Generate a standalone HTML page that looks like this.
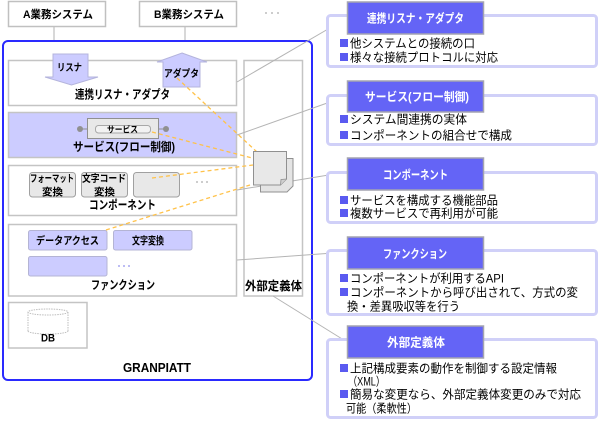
<!DOCTYPE html>
<html><head><meta charset="utf-8"><style>
html,body{margin:0;padding:0;background:#fff;}
svg{display:block;}
text{font-family:"Liberation Sans","Noto Sans CJK JP",sans-serif;}
.b{font-weight:bold;}
</style></head><body>
<svg width="600" height="422" viewBox="0 0 600 422" xmlns="http://www.w3.org/2000/svg">
<rect width="600" height="422" fill="#fff"/>
<!-- top systems -->
<line x1="54" y1="27" x2="54" y2="40" stroke="#b0b0b0" stroke-width="1"/>
<line x1="185" y1="27" x2="185" y2="40" stroke="#b0b0b0" stroke-width="1"/>
<rect x="8.5" y="1.5" width="97" height="25" fill="#fff" stroke="#c0c0c0" stroke-width="1.5"/>
<rect x="139.5" y="1.5" width="97" height="25" fill="#fff" stroke="#c0c0c0" stroke-width="1.5"/>
<text class="b" x="23" y="18" font-size="11" textLength="70" lengthAdjust="spacingAndGlyphs">A業務システム</text>
<text class="b" x="154" y="18" font-size="11" textLength="70" lengthAdjust="spacingAndGlyphs">B業務システム</text>
<circle cx="266" cy="13" r="0.9" fill="#aaa"/><circle cx="272" cy="13" r="0.9" fill="#aaa"/><circle cx="278" cy="13" r="0.9" fill="#aaa"/>

<!-- main box -->
<rect x="3" y="41" width="309" height="339" rx="5" fill="#fff" stroke="#2a2aff" stroke-width="2"/>

<!-- listener/adapter box -->
<rect x="8.5" y="60.5" width="228" height="45" fill="#fff" stroke="#c4c4c4" stroke-width="1.5"/>
<polygon points="53,54 88,54 88,77 98,77 71.5,85 45,77 53,77" fill="#ccccff" stroke="#b4b4dc" stroke-width="1"/>
<polygon points="182,53 207,62 200,62 200,87 163,87 163,62 157,62" fill="#ccccff" stroke="#b4b4dc" stroke-width="1"/>
<text class="b" x="57" y="71" font-size="10" textLength="25" lengthAdjust="spacingAndGlyphs">リスナ</text>
<text class="b" x="164" y="77" font-size="10" textLength="35" lengthAdjust="spacingAndGlyphs">アダプタ</text>
<text class="b" x="75" y="98.5" font-size="12" textLength="95" lengthAdjust="spacingAndGlyphs">連携リスナ・アダプタ</text>

<!-- service box -->
<rect x="8.5" y="112.5" width="228" height="45" fill="#ccccff" stroke="#c4c4c4" stroke-width="1.5"/>
<line x1="80" y1="129" x2="87" y2="129" stroke="#909090"/>
<line x1="159" y1="129" x2="166" y2="129" stroke="#909090"/>
<circle cx="80" cy="129" r="3" fill="#909090"/>
<circle cx="166" cy="129" r="3" fill="#909090"/>
<rect x="87.5" y="118.5" width="71" height="20" fill="#e8e8e8" stroke="#909090" stroke-width="1"/>
<rect x="95.5" y="125.5" width="55" height="7.5" rx="3" fill="#f2f2f2" stroke="#a8a8a8" stroke-width="1"/>
<text class="b" x="107" y="132.5" font-size="8.5" textLength="31" lengthAdjust="spacingAndGlyphs">サービス</text>
<text class="b" x="73" y="151" font-size="12" textLength="102" lengthAdjust="spacingAndGlyphs">サービス(フロー制御)</text>

<!-- component box -->
<rect x="8.5" y="165.5" width="228" height="50" fill="#fff" stroke="#c4c4c4" stroke-width="1.5"/>
<rect x="29.5" y="172.5" width="46" height="24.5" rx="3" fill="#e8e8e8" stroke="#a0a0a0" stroke-width="1"/>
<rect x="81.5" y="172.5" width="46" height="24.5" rx="3" fill="#e8e8e8" stroke="#a0a0a0" stroke-width="1"/>
<rect x="133.5" y="172.5" width="46" height="24.5" rx="3" fill="#e8e8e8" stroke="#a0a0a0" stroke-width="1"/>
<text class="b" x="30" y="182" font-size="10" textLength="44" lengthAdjust="spacingAndGlyphs">フォーマット</text>
<text class="b" x="42" y="195.5" font-size="10" textLength="21" lengthAdjust="spacingAndGlyphs">変換</text>
<text class="b" x="82" y="182" font-size="10" textLength="44" lengthAdjust="spacingAndGlyphs">文字コード</text>
<text class="b" x="94" y="195.5" font-size="10" textLength="21" lengthAdjust="spacingAndGlyphs">変換</text>
<circle cx="197" cy="182" r="0.9" fill="#aaa"/><circle cx="202" cy="182" r="0.9" fill="#aaa"/><circle cx="207" cy="182" r="0.9" fill="#aaa"/>
<text class="b" x="89" y="209" font-size="12" textLength="67" lengthAdjust="spacingAndGlyphs">コンポーネント</text>

<!-- function box -->
<rect x="8.5" y="224.5" width="228" height="71.5" fill="#fff" stroke="#c4c4c4" stroke-width="1.5"/>
<rect x="28.5" y="230.5" width="78.5" height="19.5" rx="2" fill="#ccccff" stroke="#b4b4d4" stroke-width="1"/>
<rect x="113.5" y="230.5" width="78.5" height="19.5" rx="2" fill="#ccccff" stroke="#b4b4d4" stroke-width="1"/>
<rect x="28.5" y="256.5" width="78.5" height="19.5" rx="2" fill="#ccccff" stroke="#b4b4d4" stroke-width="1"/>
<text class="b" x="36" y="244" font-size="10.5" textLength="63" lengthAdjust="spacingAndGlyphs">データアクセス</text>
<text class="b" x="132" y="244" font-size="10.5" textLength="32" lengthAdjust="spacingAndGlyphs">文字変換</text>
<circle cx="119" cy="266" r="1" fill="#a8a8f0"/><circle cx="124" cy="266" r="1" fill="#a8a8f0"/><circle cx="129" cy="266" r="1" fill="#a8a8f0"/>
<text class="b" x="91" y="289" font-size="12" textLength="64" lengthAdjust="spacingAndGlyphs">ファンクション</text>

<!-- external column -->
<rect x="244" y="60.5" width="58.5" height="235.5" fill="#fff" stroke="#c4c4c4" stroke-width="1.5"/>
<text class="b" x="245" y="290" font-size="12" textLength="57" lengthAdjust="spacingAndGlyphs">外部定義体</text>

<!-- DB -->
<rect x="8.5" y="302.5" width="78.5" height="45.5" fill="#fff" stroke="#c4c4c4" stroke-width="1.5"/>
<g fill="none" stroke="#bdbdbd" stroke-width="1" stroke-dasharray="1.5,1">
<ellipse cx="48" cy="312" rx="20" ry="3"/>
<line x1="28" y1="312" x2="28" y2="331"/>
<line x1="68" y1="312" x2="68" y2="331"/>
<path d="M28,331 A20,3 0 0 0 68,331"/>
</g>
<text class="b" x="41" y="341.5" font-size="11" textLength="14" lengthAdjust="spacingAndGlyphs">DB</text>
<text class="b" x="123" y="372" font-size="13" textLength="68" lengthAdjust="spacingAndGlyphs">GRANPIATT</text>

<!-- gray connectors -->
<g stroke="#b4b4b4" stroke-width="1">
<line x1="237" y1="82" x2="347" y2="18"/>
<line x1="237" y1="135" x2="347" y2="96"/>
<line x1="237" y1="190" x2="347" y2="172"/>
<line x1="237" y1="260" x2="347" y2="252"/>
<line x1="273" y1="296" x2="347" y2="342"/>
</g>

<!-- orange dashed -->
<g stroke="#ffc24a" stroke-width="1.3" stroke-dasharray="4,3" fill="none">
<line x1="177" y1="78" x2="257" y2="152"/>
<line x1="152" y1="132" x2="252" y2="158"/>
<line x1="152" y1="178" x2="253" y2="165"/>
<line x1="106" y1="230" x2="250" y2="185"/>
</g>

<!-- doc icon -->
<path d="M260.5,158.5 H293 V186 L287,192 H260.5 Z" fill="#e4e4e4" stroke="#909090" stroke-width="1"/>
<path d="M253.5,151.5 H286.5 V179 L280.5,185 H253.5 Z" fill="#e8e8e8" stroke="#909090" stroke-width="1"/>
<path d="M280.5,185 L281,179.5 L286.5,179" fill="#d0d0d0" stroke="#909090" stroke-width="0.8"/>

<!-- callouts -->
<g fill="#fff" stroke="#d0d0f8" stroke-width="3">
<rect x="327.5" y="15.5" width="269" height="51" rx="3"/>
<rect x="327.5" y="95.5" width="269" height="49" rx="3"/>
<rect x="327.5" y="172.5" width="269" height="50" rx="3"/>
<rect x="327.5" y="250.5" width="269" height="64" rx="3"/>
<rect x="327.5" y="339.5" width="269" height="78" rx="3"/>
</g>
<g fill="#6464f6" stroke="#a4a4b0" stroke-width="1.5">
<rect x="347.5" y="2" width="136" height="32"/>
<rect x="347.5" y="81" width="136" height="31"/>
<rect x="347.5" y="158" width="136" height="32"/>
<rect x="347.5" y="237" width="136" height="32"/>
<rect x="347.5" y="326" width="136" height="32"/>
</g>
<g fill="#fff" class="b" font-weight="bold" font-size="12">
<text x="367" y="22.5" textLength="97" lengthAdjust="spacingAndGlyphs">連携リスナ・アダプタ</text>
<text x="365" y="101" textLength="104" lengthAdjust="spacingAndGlyphs">サービス(フロー制御)</text>
<text x="383" y="179" textLength="65" lengthAdjust="spacingAndGlyphs">コンポーネント</text>
<text x="383" y="258" textLength="64" lengthAdjust="spacingAndGlyphs">ファンクション</text>
<text x="387" y="346.5" textLength="58" lengthAdjust="spacingAndGlyphs">外部定義体</text>
</g>
<g fill="#5a5af0">
<rect x="340" y="39" width="8" height="8"/>
<rect x="340" y="53" width="8" height="8"/>
<rect x="340" y="115" width="8" height="8"/>
<rect x="340" y="131" width="8" height="8"/>
<rect x="340" y="196" width="8" height="8"/>
<rect x="340" y="209" width="8" height="8"/>
<rect x="340" y="274" width="8" height="8"/>
<rect x="340" y="288" width="8" height="8"/>
<rect x="340" y="364" width="8" height="8"/>
<rect x="340" y="390" width="8" height="8"/>
</g>
<g fill="#000" font-size="12">
<text x="350" y="47.5" textLength="125" lengthAdjust="spacingAndGlyphs">他システムとの接続の口</text>
<text x="350" y="61.5" textLength="148" lengthAdjust="spacingAndGlyphs">様々な接続プロトコルに対応</text>
<text x="350" y="123.5" textLength="117" lengthAdjust="spacingAndGlyphs">システム間連携の実体</text>
<text x="350" y="139.5" textLength="162" lengthAdjust="spacingAndGlyphs">コンポーネントの組合せで構成</text>
<text x="350" y="204.5" textLength="148" lengthAdjust="spacingAndGlyphs">サービスを構成する機能部品</text>
<text x="350" y="217.5" textLength="148" lengthAdjust="spacingAndGlyphs">複数サービスで再利用が可能</text>
<text x="350" y="282.5" textLength="154" lengthAdjust="spacingAndGlyphs">コンポーネントが利用するAPI</text>
<text x="350" y="296.5" textLength="228" lengthAdjust="spacingAndGlyphs">コンポーネントから呼び出されて、方式の変</text>
<text x="347" y="310.5" textLength="113" lengthAdjust="spacingAndGlyphs">換・差異吸収等を行う</text>
<text x="350" y="372.5" textLength="207" lengthAdjust="spacingAndGlyphs">上記構成要素の動作を制御する設定情報</text>
<text x="348" y="385.5" textLength="37" lengthAdjust="spacingAndGlyphs">（XML）</text>
<text x="350" y="398.5" textLength="231" lengthAdjust="spacingAndGlyphs">簡易な変更なら、外部定義体変更のみで対応</text>
<text x="346" y="412.5" textLength="71" lengthAdjust="spacingAndGlyphs">可能（柔軟性）</text>
</g>
</svg>
</body></html>
